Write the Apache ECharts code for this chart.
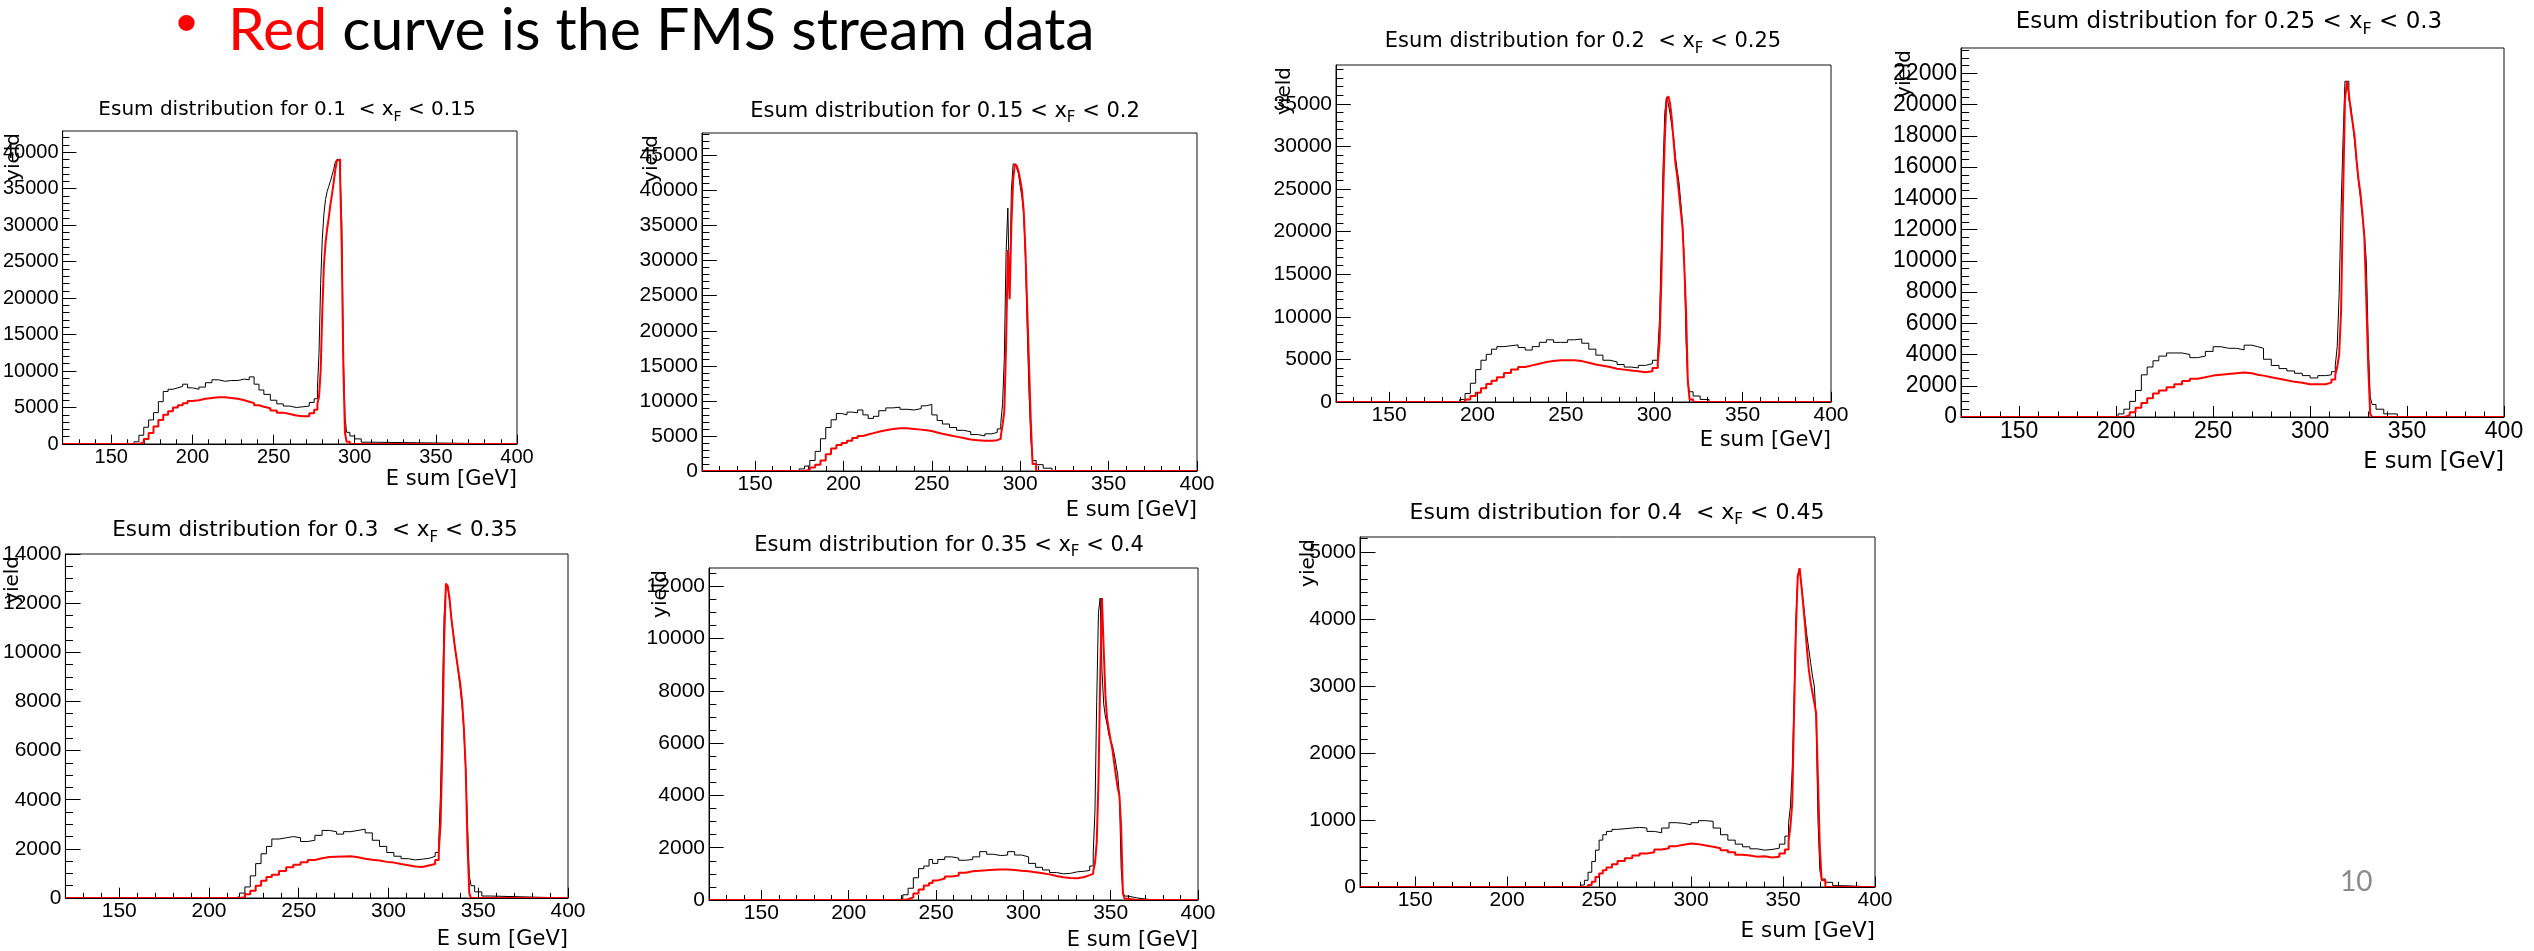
<!DOCTYPE html>
<html>
<head>
<meta charset="utf-8">
<title>Esum distributions</title>
<script src="https://cdn.jsdelivr.net/npm/echarts@6/dist/echarts.min.js"></script>
<style>
    html, body { margin: 0; padding: 0; background: #fff; }
    #chart { width: 2534px; height: 951px; }
</style>
</head>
<body>
<div id="chart"></div>
<script>
// x_F ranges of the seven panels
const xfLow = ['0.1 ', '0.15', '0.2 ', '0.25', '0.3 ', '0.35', '0.4 '];
const xfHigh = ['0.15', '0.2', '0.25', '0.3', '0.35', '0.4', '0.45'];

// shared E sum axis
const xTicks = [150, 200, 250, 300, 350, 400];

// y tick labels per panel
const yTicks1 = [0, 5000, 10000, 15000, 20000, 25000, 30000, 35000, 40000];
const yTicks2 = [0, 5000, 10000, 15000, 20000, 25000, 30000, 35000, 40000, 45000];
const yTicks3 = [0, 5000, 10000, 15000, 20000, 25000, 30000, 35000];
const yTicks4 = [0, 2000, 4000, 6000, 8000, 10000, 12000, 14000, 16000, 18000, 20000, 22000];
const yTicks5 = [0, 2000, 4000, 6000, 8000, 10000, 12000, 14000];
const yTicks6 = [0, 2000, 4000, 6000, 8000, 10000, 12000];
const yTicks7 = [0, 1000, 2000, 3000, 4000, 5000];

// histograms: bin low edges [GeV], black = all, red = FMS stream
const edges1 = [120, 164, 167, 170, 173, 176, 179, 182, 185, 188, 191, 194, 197, 200, 204, 208, 212, 216, 220, 224,
    228, 232, 235, 238, 241, 244, 248, 252, 256, 260, 264, 268, 272, 275, 277, 278, 279, 280, 281, 282,
    283, 284, 285, 286, 287, 288, 289, 290, 291, 292, 293, 294, 295, 297, 300, 304, 309, 400];
const black1 = [0, 300, 1200, 2300, 3300, 4300, 5800, 7200, 7500, 7700, 7900, 8200, 7700, 7500, 7800, 8400, 8800, 8600, 8700, 8700,
    8900, 8800, 9200, 8200, 7400, 6800, 6000, 5500, 5200, 5000, 5100, 5200, 5700, 6200, 7600, 12500, 22000, 28000, 31500, 33500,
    34600, 35300, 36000, 36800, 37600, 38600, 39000, 39000, 37200, 30500, 12000, 3700, 1600, 1100, 700, 250, 0, 0];
const red1 = [0, 0, 200, 700, 1500, 2400, 3300, 4000, 4500, 5000, 5300, 5600, 5900, 6000, 6200, 6300, 6400, 6400, 6300, 6200,
    6000, 5800, 5600, 5300, 5100, 4900, 4600, 4300, 4100, 3900, 3800, 3800, 4200, 4700, 5500, 6500, 10000, 18000, 24500, 27500,
    29500, 31000, 32800, 34200, 35800, 37500, 38800, 39000, 36800, 27000, 10500, 1500, 300, 0, 0, 0, 0, 0];

const edges2 = [120, 175, 178, 181, 184, 187, 190, 193, 196, 199, 202, 205, 208, 211, 214, 217, 220, 224, 228, 232,
    236, 240, 244, 247, 250, 253, 256, 260, 264, 268, 272, 276, 280, 284, 287, 289, 290, 291, 292, 293,
    294, 295, 296, 297, 298, 299, 300, 301, 302, 303, 304, 305, 306, 307, 309, 313, 318, 400];
const black2 = [0, 300, 700, 1500, 2800, 4600, 6200, 7300, 8200, 8000, 8400, 8300, 8700, 8000, 7500, 7800, 8600, 9000, 9100, 8800,
    8700, 8900, 9300, 9500, 8000, 7200, 6700, 6200, 5800, 5600, 5200, 5000, 5300, 5500, 6000, 6800, 9500, 16000, 31000, 37500,
    25000, 40000, 43800, 43600, 43200, 42400, 40600, 39000, 36500, 30000, 20000, 11000, 4500, 1500, 900, 400, 0, 0];
const red2 = [0, 0, 200, 500, 900, 1500, 2400, 3200, 3700, 4000, 4300, 4700, 5000, 5200, 5400, 5600, 5800, 6000, 6100, 6100,
    6000, 5900, 5800, 5700, 5500, 5300, 5100, 4900, 4700, 4500, 4400, 4300, 4300, 4400, 4600, 5000, 6500, 8500, 18000, 31500,
    24500, 35000, 41500, 43800, 43500, 42800, 41500, 40000, 37000, 31000, 23000, 15000, 7000, 1000, 0, 0, 0, 0];

const edges3 = [120, 190, 193, 196, 199, 202, 205, 208, 211, 215, 219, 223, 227, 231, 235, 239, 243, 247, 251, 255,
    259, 263, 267, 271, 275, 279, 283, 287, 291, 295, 299, 302, 303, 304, 305, 306, 307, 308, 309, 310,
    311, 312, 313, 314, 315, 316, 317, 318, 319, 320, 322, 326, 331, 400];
const black3 = [0, 300, 1000, 2200, 3800, 4900, 5600, 6200, 6500, 6600, 6700, 6400, 6100, 6500, 7000, 7300, 7000, 7000, 7300, 7400,
    6900, 6200, 5500, 4900, 4700, 4400, 4100, 4000, 4300, 4500, 4900, 5800, 9600, 18000, 27500, 34000, 35800, 35000, 33800, 32300,
    31000, 28800, 27200, 25800, 23500, 21000, 16600, 7200, 2200, 1200, 700, 300, 0, 0];
const red3 = [0, 0, 300, 700, 1100, 1600, 2100, 2500, 2900, 3400, 3800, 4100, 4300, 4500, 4700, 4800, 4900, 4900, 4900, 4800,
    4600, 4400, 4250, 4100, 3900, 3800, 3700, 3600, 3500, 3600, 4000, 4600, 7000, 14000, 24000, 31000, 35500, 35900, 35000, 33100,
    30500, 28000, 26500, 24500, 22500, 20500, 16000, 10800, 2500, 300, 0, 0, 0, 0];

const edges4 = [120, 201, 204, 207, 210, 213, 216, 219, 222, 226, 230, 234, 238, 242, 246, 250, 254, 258, 262, 266,
    270, 273, 276, 280, 284, 288, 292, 296, 300, 304, 308, 311, 313, 314, 315, 316, 317, 318, 319, 320,
    321, 322, 323, 324, 325, 326, 327, 328, 329, 330, 331, 332, 334, 338, 345, 400];
const black4 = [0, 200, 500, 1000, 1700, 2700, 3200, 3600, 3900, 4100, 4100, 4000, 3800, 3900, 4200, 4500, 4400, 4400, 4300, 4600,
    4500, 4400, 3700, 3300, 3100, 2950, 2800, 2650, 2500, 2650, 2700, 2900, 3300, 4500, 7900, 13400, 17700, 21500, 21500, 20300,
    19900, 18800, 17600, 16300, 15000, 14000, 12800, 11700, 10000, 4700, 1300, 800, 500, 200, 0, 0];
const red4 = [0, 0, 100, 300, 600, 900, 1200, 1500, 1700, 1900, 2100, 2300, 2450, 2550, 2650, 2700, 2750, 2800, 2850, 2800,
    2700, 2650, 2550, 2450, 2350, 2250, 2200, 2100, 2100, 2100, 2200, 2400, 2700, 3200, 4000, 6800, 14100, 20300, 21500, 20700,
    19600, 18800, 17900, 16400, 15200, 14300, 13000, 11500, 7500, 3200, 200, 0, 0, 0, 0, 0];

const edges5 = [120, 214, 217, 220, 223, 226, 229, 232, 235, 239, 243, 247, 251, 255, 259, 263, 267, 271, 275, 279,
    283, 287, 291, 295, 299, 303, 307, 311, 315, 319, 323, 326, 328, 329, 330, 331, 332, 333, 334, 335,
    336, 337, 338, 339, 340, 341, 342, 343, 344, 345, 346, 348, 352, 357, 400];
const black5 = [0, 50, 200, 450, 900, 1400, 1800, 2100, 2400, 2450, 2500, 2450, 2300, 2350, 2550, 2750, 2700, 2600, 2700, 2750,
    2800, 2650, 2350, 2100, 1850, 1700, 1600, 1550, 1580, 1620, 1700, 1850, 2300, 4300, 8000, 11500, 12700, 12600, 12100, 11400,
    10800, 10200, 9700, 9100, 8500, 7800, 6800, 5200, 3000, 900, 500, 250, 80, 0, 0];
const red5 = [0, 0, 30, 150, 300, 500, 700, 850, 950, 1100, 1250, 1350, 1450, 1550, 1620, 1670, 1680, 1690, 1700, 1660,
    1600, 1560, 1530, 1470, 1440, 1380, 1330, 1280, 1260, 1330, 1380, 1550, 1900, 3000, 6000, 10500, 12800, 12700, 12200, 11400,
    10800, 10200, 9700, 9200, 8700, 8000, 6900, 5300, 2200, 200, 0, 0, 0, 0, 0];

const edges6 = [120, 228, 231, 234, 237, 240, 243, 246, 248, 251, 255, 259, 263, 267, 271, 275, 279, 283, 287, 291,
    295, 299, 303, 307, 311, 315, 319, 323, 327, 331, 335, 338, 340, 341, 342, 343, 344, 345, 346, 347,
    348, 349, 350, 351, 352, 353, 354, 355, 356, 357, 358, 360, 365, 372, 400];
const black6 = [0, 50, 200, 450, 850, 1200, 1300, 1550, 1400, 1550, 1650, 1600, 1520, 1550, 1650, 1850, 1750, 1700, 1720, 1850,
    1720, 1650, 1400, 1250, 1150, 1050, 1000, 1020, 1080, 1100, 1130, 1300, 1800, 3400, 7600, 11000, 11550, 8800, 7500, 7000,
    6700, 6300, 6100, 5900, 5600, 5200, 4800, 4000, 1200, 300, 150, 80, 20, 0, 0];
const red6 = [0, 0, 30, 100, 250, 400, 550, 650, 750, 820, 900, 940, 1040, 1100, 1120, 1140, 1160, 1170, 1170, 1150,
    1120, 1100, 1060, 1020, 980, 920, 870, 840, 830, 880, 950, 1000, 1100, 1400, 2200, 4500, 8500, 11550, 9600, 7800,
    6900, 6500, 6100, 5750, 5250, 4750, 4300, 4000, 2800, 250, 50, 0, 0, 0, 0];

const edges7 = [120, 240, 242, 244, 246, 248, 250, 252, 254, 257, 260, 264, 268, 272, 276, 280, 284, 288, 292, 296,
    300, 304, 308, 312, 316, 320, 324, 328, 332, 336, 340, 344, 348, 351, 353, 354, 355, 356, 357, 358,
    359, 360, 361, 362, 363, 364, 365, 366, 367, 368, 369, 370, 371, 373, 377, 383, 400];
const black7 = [0, 30, 100, 220, 380, 550, 700, 780, 830, 860, 870, 880, 890, 880, 830, 810, 880, 960, 950, 930,
    960, 990, 980, 880, 780, 700, 640, 600, 570, 550, 560, 580, 640, 760, 950, 1200, 1750, 2800, 4000, 4640,
    4760, 4500, 4250, 4000, 3750, 3550, 3350, 3150, 3000, 2500, 1000, 250, 120, 70, 20, 0, 0];
const red7 = [0, 0, 0, 30, 80, 150, 200, 250, 290, 340, 390, 430, 470, 500, 520, 560, 580, 610, 630, 650,
    640, 620, 600, 580, 550, 520, 480, 470, 450, 460, 440, 450, 500, 560, 680, 900, 1250, 2600, 3840, 4640,
    4760, 4500, 4200, 3900, 3550, 3250, 3050, 2900, 2750, 2590, 1600, 600, 100, 0, 0, 0, 0];

// layout of each ROOT pad on the slide
const panels = [
    {edges: edges1, black: black1, red: red1, yTicks: yTicks1, yMinor: 1000, ymax: 42900,
        box: [57, 131, 460, 313], titleX: 287, titleY: 110, titleSize: 20, labelSize: 20, nameSize: 21, namePad: 25, yieldPad: 39},
    {edges: edges2, black: black2, red: red2, yTicks: yTicks2, yMinor: 1000, ymax: 48200,
        box: [702, 133, 495, 338], titleX: 945, titleY: 111.5, titleSize: 21, labelSize: 21, nameSize: 21, namePad: 29, yieldPad: 40},
    {edges: edges3, black: black3, red: red3, yTicks: yTicks3, yMinor: 1000, ymax: 39550,
        box: [1336, 65, 495, 337], titleX: 1583, titleY: 41.7, titleSize: 21, labelSize: 21, nameSize: 21, namePad: 28, yieldPad: 41},
    {edges: edges4, black: black4, red: red4, yTicks: yTicks4, yMinor: 500, ymax: 23630,
        box: [1961, 48, 543, 369], titleX: 2229, titleY: 22.5, titleSize: 23, labelSize: 23, nameSize: 22.5, namePad: 34, yieldPad: 46},
    {edges: edges5, black: black5, red: red5, yTicks: yTicks5, yMinor: 500, ymax: 14000,
        box: [63, 554, 505, 344], titleX: 315, titleY: 530.5, titleSize: 21.5, labelSize: 21, nameSize: 21, namePad: 31, yieldPad: 43},
    {edges: edges6, black: black6, red: red6, yTicks: yTicks6, yMinor: 500, ymax: 12700,
        box: [709, 568, 489, 332], titleX: 949, titleY: 545.6, titleSize: 21, labelSize: 21, nameSize: 21, namePad: 30, yieldPad: 38},
    {edges: edges7, black: black7, red: red7, yTicks: yTicks7, yMinor: 200, ymax: 5225,
        box: [1360, 537, 515, 350], titleX: 1617, titleY: 513, titleSize: 22, labelSize: 21, nameSize: 21.5, namePad: 33, yieldPad: 41}
];

const ROOT_FONT = 'DejaVu Sans';
const LABEL_FONT = 'Liberation Sans';

function steps(from, to, step) {
    let out = [];
    for (let v = from; v <= to + 1e-9; v += step) {
        out.push(v);
    }
    return out;
}

function toPairs(edges, values) {
    return edges.map(function (e, i) {
        return [e, values[i]];
    });
}

// ROOT prints plain integers, no thousands separator
function plain(v) {
    return String(v);
}

let grids = [], xAxes = [], yAxes = [], series = [];

let titles = [
    {
        text: '•', left: 176, top: -4, padding: 0,
        textStyle: {fontFamily: LABEL_FONT, fontSize: 60, fontWeight: 'normal', color: '#ff0000'}
    },
    {
        text: '{r|Red}{k| curve is the FMS stream data}', left: 228, top: 1, padding: 0,
        textStyle: {
            fontFamily: 'Lato', fontSize: 59, fontWeight: 'normal', color: '#000',
            rich: {
                r: {fontFamily: 'Lato', fontSize: 59, fontWeight: 'normal', color: '#ff0000'},
                k: {fontFamily: 'Lato', fontSize: 59, fontWeight: 'normal', color: '#000'}
            }
        }
    },
    {
        text: '10', left: 2340, top: 868, padding: 0,
        textStyle: {fontFamily: 'Lato', fontSize: 28, fontWeight: 'normal', color: '#8c8c8c'}
    }
];

panels.forEach(function (p, i) {
    let b = p.box;
    let xTick = 0.03 * b[3];
    let yTick = 0.03 * b[2];
    let lh = p.titleSize + 8;

    grids.push({
        left: b[0], top: b[1], width: b[2], height: b[3],
        show: true, borderColor: '#111', borderWidth: 1, backgroundColor: 'transparent'
    });

    titles.push({
        text: '{t|Esum distribution for ' + xfLow[i] + ' < x}{s|F}{t| < ' + xfHigh[i] + '}',
        left: p.titleX, top: p.titleY - lh / 2, textAlign: 'center', padding: 0,
        textStyle: {
            rich: {
                t: {fontFamily: ROOT_FONT, fontSize: p.titleSize, lineHeight: lh, fontWeight: 'normal', color: '#000'},
                s: {fontFamily: ROOT_FONT, fontSize: Math.round(p.titleSize * 0.7), verticalAlign: 'bottom', fontWeight: 'normal', color: '#000'}
            }
        }
    });

    // main x axis: labels and major ticks, drawn over the histograms
    xAxes.push({
        gridIndex: i, type: 'value', min: 120, max: 400, position: 'bottom', z: 10,
        axisLine: {show: true, onZero: false, lineStyle: {color: '#000', width: 1}},
        axisTick: {show: true, inside: true, length: xTick, customValues: xTicks, lineStyle: {color: '#000'}},
        axisLabel: {show: true, customValues: xTicks, margin: 3, fontFamily: LABEL_FONT, fontSize: p.labelSize, color: '#000', formatter: plain},
        splitLine: {show: false},
        name: 'E sum [GeV]', nameLocation: 'end', nameGap: 0, nameMoveOverlap: false,
        nameTextStyle: {
            fontFamily: ROOT_FONT, fontSize: p.nameSize, color: '#000',
            align: 'right', verticalAlign: 'top', padding: [p.namePad, 0, 0, 0]
        }
    });
    // minor x ticks
    xAxes.push({
        gridIndex: i, type: 'value', min: 120, max: 400, position: 'bottom',
        axisLine: {show: false},
        axisTick: {show: true, inside: true, length: xTick / 2, customValues: steps(130, 390, 10), lineStyle: {color: '#000'}},
        axisLabel: {show: false},
        splitLine: {show: false}
    });

    yAxes.push({
        gridIndex: i, type: 'value', min: 0, max: p.ymax, position: 'left',
        axisLine: {show: true, onZero: false, lineStyle: {color: '#000', width: 1}},
        axisTick: {show: true, inside: true, length: yTick, customValues: p.yTicks, lineStyle: {color: '#000'}},
        axisLabel: {show: true, customValues: p.yTicks, margin: 4, fontFamily: LABEL_FONT, fontSize: p.labelSize, color: '#000', formatter: plain},
        splitLine: {show: false},
        name: 'yield', nameLocation: 'end', nameRotate: 90, nameGap: -2, nameMoveOverlap: false,
        nameTextStyle: {
            fontFamily: ROOT_FONT, fontSize: 20, color: '#000',
            align: 'right', verticalAlign: 'bottom', padding: [0, 0, p.yieldPad, 0]
        }
    });
    yAxes.push({
        gridIndex: i, type: 'value', min: 0, max: p.ymax, position: 'left',
        axisLine: {show: false},
        axisTick: {show: true, inside: true, length: yTick / 2, customValues: steps(0, p.ymax, p.yMinor), lineStyle: {color: '#000'}},
        axisLabel: {show: false},
        splitLine: {show: false}
    });

    series.push({
        type: 'line', name: 'all', xAxisIndex: 2 * i, yAxisIndex: 2 * i,
        step: 'end', symbol: 'none', silent: true, z: 2,
        lineStyle: {color: '#000', width: 1},
        data: toPairs(p.edges, p.black)
    });
    series.push({
        type: 'line', name: 'FMS stream', xAxisIndex: 2 * i, yAxisIndex: 2 * i,
        step: 'end', symbol: 'none', silent: true, z: 3,
        lineStyle: {color: '#ff0000', width: 2},
        data: toPairs(p.edges, p.red)
    });
});

let chart = echarts.init(document.getElementById('chart'));
chart.setOption({
    animation: false,
    backgroundColor: '#fff',
    title: titles,
    grid: grids,
    xAxis: xAxes,
    yAxis: yAxes,
    series: series
});
</script>
</body>
</html>
